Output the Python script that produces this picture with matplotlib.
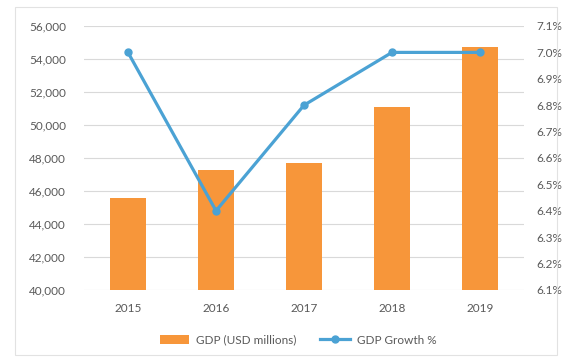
import matplotlib
matplotlib.use("Agg")
import matplotlib.pyplot as plt
from matplotlib.patches import Rectangle
from matplotlib.ticker import FuncFormatter, MultipleLocator

years = ["2015", "2016", "2017", "2018", "2019"]
gdp = [45600, 47300, 47700, 51100, 54700]
growth = [7.0, 6.4, 6.8, 7.0, 7.0]

plt.rcParams['font.family'] = ['Lato', 'DejaVu Sans']
txt = '#595959'
orange = '#F7963A'
blue = '#4BA2D4'

fig = plt.figure(figsize=(5.7, 3.6), dpi=100)
fig.patches.append(Rectangle((15/570, 5/360), 542/570, 348/360, transform=fig.transFigure,
                             fill=False, edgecolor='#E2E2E2', linewidth=0.8))
ax = fig.add_axes([84/570, 70/360, 440/570, 264/360])
x = list(range(len(years)))
ax.bar(x, gdp, width=0.4, color=orange, label='GDP (USD millions)', zorder=2)
ax.set_ylim(40000, 56000)
ax.set_xlim(-0.5, 4.5)
ax.yaxis.set_major_locator(MultipleLocator(2000))
ax.yaxis.set_major_formatter(FuncFormatter(lambda v, p: f"{int(v):,}"))
ax.grid(axis='y', color='#D9D9D9', linewidth=0.8, zorder=0)
ax.set_axisbelow(True)
ax.set_xticks(x)
ax.set_xticklabels(years)
for s in ax.spines.values():
    s.set_visible(False)
ax.tick_params(axis='both', length=0, labelsize=8.5, colors=txt)
ax.tick_params(axis='y', pad=13)
ax.tick_params(axis='x', pad=9)

ax2 = ax.twinx()
ax2.plot(x, growth, color=blue, linewidth=2.3, marker='o', markersize=5,
         label='GDP Growth %', zorder=3)
ax2.set_ylim(6.1, 7.1)
ax2.yaxis.set_major_locator(MultipleLocator(0.1))
ax2.yaxis.set_major_formatter(FuncFormatter(lambda v, p: f"{v:.1f}%"))
for s in ax2.spines.values():
    s.set_visible(False)
ax2.tick_params(axis='y', length=0, labelsize=8.5, colors=txt, pad=9)

h1, l1 = ax.get_legend_handles_labels()
h2, l2 = ax2.get_legend_handles_labels()
fig.legend(h1 + h2, l1 + l2, loc='center', bbox_to_anchor=(298/570, 20/360), ncol=2,
           frameon=False, fontsize=8.5, labelcolor=txt, handlelength=2.5,
           columnspacing=2.0, handletextpad=0.6)

fig.savefig('out.png', dpi=100)
